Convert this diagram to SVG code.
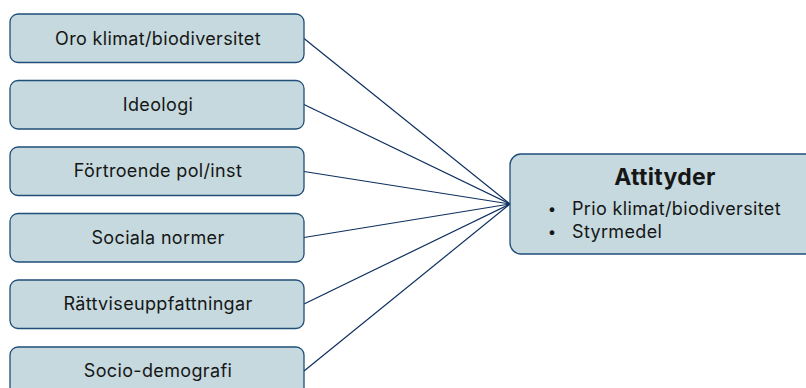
<svg xmlns="http://www.w3.org/2000/svg" width="806" height="388" viewBox="0 0 806 388">
<style>
.box{fill:#c5d9de;stroke:#1f4e79;stroke-width:1.3}
.lbl{font-family:Inter,"Liberation Sans",sans-serif;font-size:18px;letter-spacing:0.35px;fill:#161616;text-anchor:middle}
.con{stroke:#0d2f5e;stroke-width:1.2;fill:none}
.t{font-family:Inter,"Liberation Sans",sans-serif;fill:#161616}
.b{font-size:18px;letter-spacing:0.35px}
</style>
<rect width="806" height="388" fill="#fff"/>
<g id="connectors">
<line class="con" x1="304" y1="38.5" x2="510" y2="204"/>
<line class="con" x1="304" y1="104.5" x2="510" y2="204"/>
<line class="con" x1="304" y1="171.5" x2="510" y2="204"/>
<line class="con" x1="304" y1="237.5" x2="510" y2="204"/>
<line class="con" x1="304" y1="304" x2="510" y2="204"/>
<line class="con" x1="304" y1="371" x2="510" y2="204"/>
</g>
<g id="n1"><rect class="box" x="10" y="14" width="294" height="48.5" rx="8"/><text class="lbl" x="158" y="44.5">Oro klimat/biodiversitet</text></g>
<g id="n2"><rect class="box" x="10" y="80.5" width="294" height="48.5" rx="8"/><text class="lbl" x="158" y="111">Ideologi</text></g>
<g id="n3"><rect class="box" x="10" y="147" width="294" height="48.5" rx="8"/><text class="lbl" x="158" y="177">Förtroende pol/inst</text></g>
<g id="n4"><rect class="box" x="10" y="213.5" width="294" height="48.5" rx="8"/><text class="lbl" x="158" y="243.5">Sociala normer</text></g>
<g id="n5"><rect class="box" x="10" y="280" width="294" height="48.5" rx="8"/><text class="lbl" x="158" y="310">Rättviseuppfattningar</text></g>
<g id="n6"><rect class="box" x="10" y="347" width="294" height="48.5" rx="8"/><text class="lbl" x="158" y="376.5">Socio-demografi</text></g>
<g id="target"><rect class="box" x="510" y="154" width="310" height="100" rx="11"/>
<text class="t" x="665" y="185" font-size="23" font-weight="bold" letter-spacing="0.3" text-anchor="middle">Attityder</text>
<text class="t" x="552" y="214" font-size="15" text-anchor="middle">•</text><text class="t b" x="572" y="215">Prio klimat/biodiversitet</text>
<text class="t" x="552" y="237" font-size="15" text-anchor="middle">•</text><text class="t b" x="572" y="238">Styrmedel</text>
</g>
</svg>
